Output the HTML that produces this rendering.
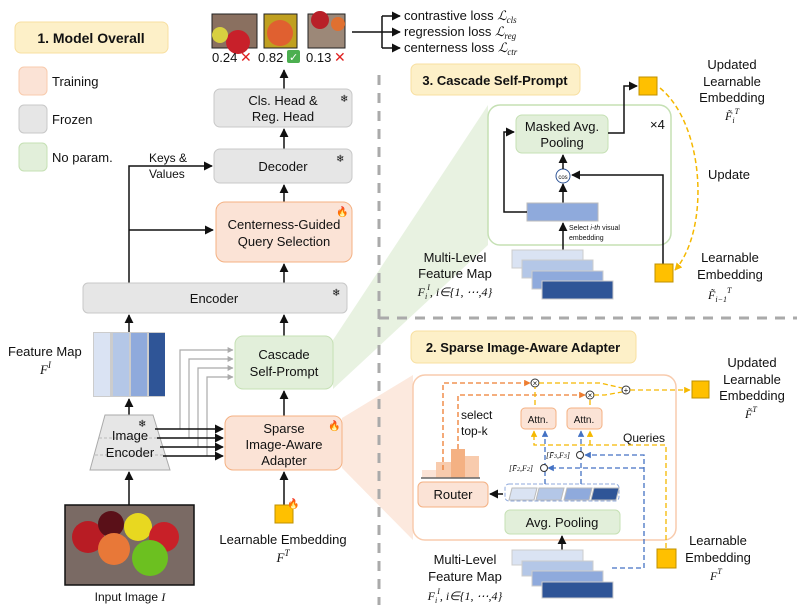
<!DOCTYPE html>
<html><head><meta charset="utf-8"><style>
html,body{margin:0;padding:0;background:#fff}
svg{display:block}
text{font-family:"Liberation Sans",sans-serif;fill:#111}
.s{font-size:12px}.m{font-size:13px}.i{font-family:"Liberation Serif",serif;font-style:italic}
</style></head><body>
<svg width="797" height="613" viewBox="0 0 797 613" xmlns="http://www.w3.org/2000/svg">
<defs>
<marker id="a" viewBox="0 0 10 10" refX="9" refY="5" markerWidth="6" markerHeight="6" orient="auto"><path d="M0,0L10,5L0,10z" fill="#111"/></marker>
<marker id="ag" viewBox="0 0 10 10" refX="9" refY="5" markerWidth="5" markerHeight="5" orient="auto"><path d="M0,0L10,5L0,10z" fill="#aaa"/></marker>
<marker id="ay" viewBox="0 0 10 10" refX="9" refY="5" markerWidth="5" markerHeight="5" orient="auto"><path d="M0,0L10,5L0,10z" fill="#f5b800"/></marker>
<marker id="ab" viewBox="0 0 10 10" refX="9" refY="5" markerWidth="5" markerHeight="5" orient="auto"><path d="M0,0L10,5L0,10z" fill="#4472c4"/></marker>
<marker id="ao" viewBox="0 0 10 10" refX="9" refY="5" markerWidth="5" markerHeight="5" orient="auto"><path d="M0,0L10,5L0,10z" fill="#ed7d31"/></marker>
</defs>
<!-- wedges -->
<polygon points="333,340 333,389 488,245 488,105" fill="#e2efda" opacity="0.8"/>
<polygon points="342,418 342,468 413,540 413,375" fill="#fbe3d6" opacity="0.8"/>
<rect x="379" y="0" width="418" height="613" fill="none"/>
<!-- dashed dividers -->
<line x1="379" y1="75" x2="379" y2="605" stroke="#aaa" stroke-width="3" stroke-dasharray="10,8"/>
<line x1="379" y1="318" x2="797" y2="318" stroke="#aaa" stroke-width="3" stroke-dasharray="10,8"/>
<!-- title box 1 -->
<rect x="15" y="22" width="153" height="31" rx="6" fill="#fdf0c8" stroke="#f8dfa0"/>
<text x="91" y="43" text-anchor="middle" font-size="14" font-weight="bold">1. Model Overall</text>
<rect x="19" y="67" width="28" height="28" rx="5" fill="#fbe3d6" stroke="#f8cbad"/>
<text x="52" y="86" class="m">Training</text>
<rect x="19" y="105" width="28" height="28" rx="5" fill="#e6e6e6" stroke="#c8c8c8"/>
<text x="52" y="124" class="m">Frozen</text>
<rect x="19" y="143" width="28" height="28" rx="5" fill="#e2efda" stroke="#c5e0b4"/>
<text x="52" y="162" class="m">No param.</text>
<!-- top images -->
<rect x="212" y="14" width="45" height="34" fill="#8a7060" stroke="#222"/>
<circle cx="238" cy="42" r="12" fill="#c8202a"/><circle cx="220" cy="35" r="8" fill="#d8d040"/>
<rect x="264" y="14" width="33" height="34" fill="#c0a020" stroke="#222"/>
<circle cx="280" cy="33" r="13" fill="#e06030"/>
<rect x="308" y="14" width="37" height="34" fill="#9c8878" stroke="#222"/>
<circle cx="320" cy="20" r="9" fill="#b82028"/><circle cx="338" cy="24" r="7" fill="#e07030"/>
<text x="212" y="62" class="m">0.24</text><text x="240" y="62" font-size="14" fill="#e02020" style="fill:#e02020">✕</text>
<text x="258" y="62" class="m">0.82</text><rect x="287" y="50" width="13" height="13" rx="2" fill="#4caf50"/><text x="289" y="61" font-size="11" style="fill:#fff">✓</text>
<text x="306" y="62" class="m">0.13</text><text x="334" y="62" font-size="14" style="fill:#e02020">✕</text>
<line x1="352" y1="32" x2="382" y2="32" stroke="#111" stroke-width="1.5"/>
<path d="M382,16V48" stroke="#111" stroke-width="1.5"/>
<line x1="382" y1="16" x2="400" y2="16" stroke="#111" stroke-width="1.5" marker-end="url(#a)"/>
<line x1="382" y1="32" x2="400" y2="32" stroke="#111" stroke-width="1.5" marker-end="url(#a)"/>
<line x1="382" y1="48" x2="400" y2="48" stroke="#111" stroke-width="1.5" marker-end="url(#a)"/>
<text x="404" y="20" class="m">contrastive loss <tspan class="i">ℒ</tspan><tspan class="i" font-size="9" dy="3">cls</tspan></text>
<text x="404" y="36" class="m">regression loss <tspan class="i">ℒ</tspan><tspan class="i" font-size="9" dy="3">reg</tspan></text>
<text x="404" y="52" class="m">centerness loss <tspan class="i">ℒ</tspan><tspan class="i" font-size="9" dy="3">ctr</tspan></text>
<!-- main column -->
<line x1="284" y1="89" x2="284" y2="70" stroke="#111" stroke-width="1.5" marker-end="url(#a)"/>
<rect x="214" y="89" width="138" height="38" rx="6" fill="#e6e6e6" stroke="#c8c8c8"/>
<text x="283" y="105" text-anchor="middle" class="m">Cls. Head &amp;</text>
<text x="283" y="121" text-anchor="middle" class="m">Reg. Head</text>
<text x="340" y="102" font-size="10">❄</text>
<line x1="284" y1="149" x2="284" y2="129" stroke="#111" stroke-width="1.5" marker-end="url(#a)"/>
<rect x="214" y="149" width="138" height="34" rx="6" fill="#e6e6e6" stroke="#c8c8c8"/>
<text x="283" y="171" text-anchor="middle" class="m">Decoder</text>
<text x="336" y="162" font-size="10">❄</text>
<line x1="284" y1="202" x2="284" y2="185" stroke="#111" stroke-width="1.5" marker-end="url(#a)"/>
<rect x="216" y="202" width="136" height="60" rx="9" fill="#fbe3d6" stroke="#f4b183"/>
<text x="284" y="229" text-anchor="middle" class="m">Centerness-Guided</text>
<text x="284" y="246" text-anchor="middle" class="m">Query Selection</text>
<text x="336" y="215" font-size="10">🔥</text>
<line x1="284" y1="283" x2="284" y2="264" stroke="#111" stroke-width="1.5" marker-end="url(#a)"/>
<path d="M129,283V166H212" fill="none" stroke="#111" stroke-width="1.5" marker-end="url(#a)"/>
<line x1="129" y1="230" x2="213" y2="230" stroke="#111" stroke-width="1.5" marker-end="url(#a)"/>
<text x="149" y="162" class="s">Keys &amp;</text><text x="149" y="178" class="s">Values</text>
<rect x="83" y="283" width="264" height="30" rx="5" fill="#e6e6e6" stroke="#c8c8c8"/>
<text x="214" y="303" text-anchor="middle" class="m">Encoder</text>
<text x="332" y="296" font-size="10">❄</text>
<line x1="129" y1="332" x2="129" y2="315" stroke="#111" stroke-width="1.5" marker-end="url(#a)"/>
<line x1="284" y1="336" x2="284" y2="315" stroke="#111" stroke-width="1.5" marker-end="url(#a)"/>
<rect x="93" y="332" width="72" height="65" fill="#ccc"/>
<rect x="94" y="333" width="16" height="63" fill="#dae3f3"/><rect x="113" y="333" width="16" height="63" fill="#b4c7e7"/>
<rect x="131" y="333" width="16" height="63" fill="#8faadc"/><rect x="149" y="333" width="16" height="63" fill="#2f5597"/>
<text x="8" y="356" class="m">Feature Map</text>
<text x="40" y="374" class="m i">F<tspan font-size="9" dy="-6">I</tspan></text>
<line x1="129" y1="415" x2="129" y2="399" stroke="#111" stroke-width="1.5" marker-end="url(#a)"/>
<!-- gray lines -->
<g stroke="#aaa" stroke-width="1.2" fill="none">
<path d="M180,429V350H233" marker-end="url(#ag)"/><path d="M189,438V359H233" marker-end="url(#ag)"/>
<path d="M198,447V368H233" marker-end="url(#ag)"/><path d="M207,456V377H233" marker-end="url(#ag)"/>
</g>
<rect x="235" y="336" width="98" height="53" rx="8" fill="#e2efda" stroke="#c5e0b4"/>
<text x="284" y="359" text-anchor="middle" class="m">Cascade</text>
<text x="284" y="376" text-anchor="middle" class="m">Self-Prompt</text>
<line x1="284" y1="416" x2="284" y2="391" stroke="#111" stroke-width="1.5" marker-end="url(#a)"/>
<polygon points="105,415 153,415 170,470 90,470" fill="#e6e6e6" stroke="#aaa"/>
<line x1="99" y1="438" x2="160" y2="438" stroke="#bbb" stroke-dasharray="3,2"/>
<line x1="95" y1="455" x2="165" y2="455" stroke="#bbb" stroke-dasharray="3,2"/>
<text x="130" y="440" text-anchor="middle" class="m">Image</text>
<text x="130" y="457" text-anchor="middle" class="m">Encoder</text>
<text x="138" y="427" font-size="10">❄</text>
<g stroke="#111" stroke-width="1.5">
<line x1="155" y1="429" x2="223" y2="429" marker-end="url(#a)"/><line x1="157" y1="438" x2="223" y2="438" marker-end="url(#a)"/>
<line x1="160" y1="447" x2="223" y2="447" marker-end="url(#a)"/><line x1="163" y1="456" x2="223" y2="456" marker-end="url(#a)"/>
</g>
<rect x="225" y="416" width="117" height="54" rx="8" fill="#fbe3d6" stroke="#f4b183"/>
<text x="284" y="433" text-anchor="middle" class="m">Sparse</text>
<text x="284" y="449" text-anchor="middle" class="m">Image-Aware</text>
<text x="284" y="465" text-anchor="middle" class="m">Adapter</text>
<text x="328" y="429" font-size="10">🔥</text>
<line x1="284" y1="505" x2="284" y2="472" stroke="#111" stroke-width="1.5" marker-end="url(#a)"/>
<rect x="275" y="505" width="18" height="18" fill="#ffc000" stroke="#bf9000"/>
<text x="287" y="507" font-size="10">🔥</text>
<text x="283" y="544" text-anchor="middle" class="m">Learnable Embedding</text>
<text x="283" y="562" text-anchor="middle" class="m i">F<tspan font-size="9" dy="-6">T</tspan></text>
<line x1="129" y1="505" x2="129" y2="472" stroke="#111" stroke-width="1.5" marker-end="url(#a)"/>
<rect x="65" y="505" width="129" height="80" fill="#7a6a64" stroke="#111" stroke-width="1.5"/>
<circle cx="88" cy="537" r="16" fill="#b81c24"/><circle cx="111" cy="524" r="13" fill="#5a1018"/>
<circle cx="138" cy="527" r="14" fill="#e8d820"/><circle cx="164" cy="537" r="15" fill="#c82028"/>
<circle cx="114" cy="549" r="16" fill="#e87838"/><circle cx="150" cy="558" r="18" fill="#6cc020"/>
<text x="130" y="601" text-anchor="middle" class="s">Input Image <tspan class="i">I</tspan></text>
<!-- section 3 -->
<rect x="411" y="64" width="169" height="31" rx="6" fill="#fdf0c8" stroke="#f8dfa0"/>
<text x="495" y="85" text-anchor="middle" font-size="13" font-weight="bold">3. Cascade Self-Prompt</text>
<rect x="488" y="105" width="183" height="140" rx="12" fill="#fff" stroke="#c5e0b4" stroke-width="1.5"/>
<rect x="516" y="115" width="92" height="38" rx="6" fill="#e2efda" stroke="#c5e0b4"/>
<text x="562" y="131" text-anchor="middle" class="m">Masked Avg.</text>
<text x="562" y="147" text-anchor="middle" class="m">Pooling</text>
<text x="650" y="129" class="m">×4</text>
<circle cx="563" cy="176" r="7" fill="#fff" stroke="#2f5597"/>
<text x="563" y="179" text-anchor="middle" font-size="6">cos</text>
<line x1="563" y1="169" x2="563" y2="155" stroke="#111" stroke-width="1.5" marker-end="url(#a)"/>
<line x1="563" y1="203" x2="563" y2="184" stroke="#111" stroke-width="1.5" marker-end="url(#a)"/>
<rect x="527" y="203" width="71" height="18" fill="#8faadc" stroke="#bbb"/>
<path d="M527,212H504V132H514" fill="none" stroke="#111" stroke-width="1.5" marker-end="url(#a)"/>
<line x1="563" y1="250" x2="563" y2="223" stroke="#111" stroke-width="1.5" marker-end="url(#a)"/>
<text x="569" y="230" font-size="7">Select <tspan font-style="italic">i-th</tspan> visual</text>
<text x="569" y="240" font-size="7">embedding</text>
<path d="M663,264V175H572" fill="none" stroke="#111" stroke-width="1.5" marker-end="url(#a)"/>
<path d="M608,133H624V86H637" fill="none" stroke="#111" stroke-width="1.5" marker-end="url(#a)"/>
<rect x="512" y="250" width="71" height="18" fill="#dae3f3" stroke="#ccc"/>
<rect x="522" y="260" width="71" height="18" fill="#b4c7e7" stroke="#ccc"/>
<rect x="532" y="271" width="71" height="18" fill="#8faadc" stroke="#ccc"/>
<rect x="542" y="281" width="71" height="18" fill="#2f5597" stroke="#ccc"/>
<text x="455" y="262" text-anchor="middle" class="m">Multi-Level</text>
<text x="455" y="278" text-anchor="middle" class="m">Feature Map</text>
<text x="455" y="296" text-anchor="middle" class="s i">F<tspan font-size="8" dy="3">i</tspan><tspan font-size="8" dy="-9">I</tspan><tspan dy="6">, i∈{1, ⋯,4}</tspan></text>
<rect x="639" y="77" width="18" height="18" fill="#ffc000" stroke="#bf9000"/>
<rect x="655" y="264" width="18" height="18" fill="#ffc000" stroke="#bf9000"/>
<path d="M660,88C705,125,710,230,675,270" fill="none" stroke="#f5b800" stroke-width="1.5" stroke-dasharray="5,3" marker-end="url(#ay)"/>
<text x="732" y="69" text-anchor="middle" class="m">Updated</text>
<text x="732" y="86" text-anchor="middle" class="m">Learnable</text>
<text x="732" y="102" text-anchor="middle" class="m">Embedding</text>
<text x="725" y="120" class="s i">F̃<tspan font-size="8" dy="3">i</tspan><tspan font-size="8" dy="-9">T</tspan></text>
<text x="708" y="179" class="m">Update</text>
<text x="730" y="262" text-anchor="middle" class="m">Learnable</text>
<text x="730" y="279" text-anchor="middle" class="m">Embedding</text>
<text x="708" y="299" class="s i">F̃<tspan font-size="8" dy="3">i−1</tspan><tspan font-size="8" dy="-9">T</tspan></text>
<!-- section 2 -->
<rect x="411" y="331" width="225" height="32" rx="6" fill="#fdf0c8" stroke="#f8dfa0"/>
<text x="523" y="352" text-anchor="middle" font-size="13" font-weight="bold">2. Sparse Image-Aware Adapter</text>
<rect x="413" y="375" width="263" height="165" rx="12" fill="#fff" stroke="#f8cbad" stroke-width="1.5"/>
<!-- histogram -->
<rect x="422" y="470" width="14" height="8" fill="#fbe3d6"/><rect x="436" y="462" width="15" height="16" fill="#f8cbad"/>
<rect x="451" y="449" width="14" height="29" fill="#f4b183"/><rect x="465" y="456" width="14" height="22" fill="#f8cbad"/>
<line x1="421" y1="478" x2="480" y2="478" stroke="#666" stroke-width="1.5"/>
<text x="461" y="419" class="s">select</text><text x="461" y="435" class="s">top-k</text>
<rect x="418" y="482" width="70" height="25" rx="5" fill="#fbe3d6" stroke="#f4b183"/>
<text x="453" y="499" text-anchor="middle" class="m">Router</text>
<line x1="503" y1="494" x2="490" y2="494" stroke="#111" stroke-width="1.5" marker-end="url(#a)"/>
<rect x="505" y="484" width="114" height="17" rx="4" fill="none" stroke="#8faadc" stroke-dasharray="4,2"/>
<polygon points="512,488 537,488 534,500 509,500" fill="#dae3f3" stroke="#bbb"/>
<polygon points="539,488 564,488 561,500 536,500" fill="#b4c7e7" stroke="#bbb"/>
<polygon points="567,488 592,488 589,500 564,500" fill="#8faadc" stroke="#bbb"/>
<polygon points="594,488 619,488 616,500 591,500" fill="#2f5597" stroke="#bbb"/>
<rect x="505" y="510" width="115" height="24" rx="5" fill="#e2efda" stroke="#c5e0b4"/>
<text x="562" y="527" text-anchor="middle" class="m">Avg. Pooling</text>
<line x1="562" y1="550" x2="562" y2="536" stroke="#111" stroke-width="1.5" marker-end="url(#a)"/>
<!-- orange dashed -->
<g stroke="#ed7d31" stroke-width="1.3" fill="none" stroke-dasharray="5,3">
<path d="M443,470V383H530" marker-end="url(#ao)"/>
<path d="M458,449V395H585" marker-end="url(#ao)"/>
</g>
<rect x="521" y="408" width="35" height="21" rx="4" fill="#fbe3d6" stroke="#f4b183"/>
<text x="538" y="423" text-anchor="middle" font-size="10">Attn.</text>
<rect x="567" y="408" width="35" height="21" rx="4" fill="#fbe3d6" stroke="#f4b183"/>
<text x="584" y="423" text-anchor="middle" font-size="10">Attn.</text>
<circle cx="535" cy="383" r="4" fill="#fff" stroke="#333"/><text x="535" y="386" text-anchor="middle" font-size="8">×</text>
<circle cx="590" cy="395" r="4" fill="#fff" stroke="#333"/><text x="590" y="398" text-anchor="middle" font-size="8">×</text>
<circle cx="626" cy="390" r="4" fill="#fff" stroke="#333"/><text x="626" y="393" text-anchor="middle" font-size="8">+</text>
<g stroke="#f5b800" stroke-width="1.3" fill="none" stroke-dasharray="5,3">
<path d="M539,383H600L622,388"/><path d="M594,395H605L622,392"/>
<path d="M630,390H690" marker-end="url(#ay)"/>
<path d="M535,405V387"/><path d="M590,405V399"/>
<path d="M666,548V445H534V431" marker-end="url(#ay)"/>
<path d="M590,445V431" marker-end="url(#ay)"/>
</g>
<g stroke="#4472c4" stroke-width="1.3" fill="none" stroke-dasharray="5,3">
<path d="M545,484V431" marker-end="url(#ab)"/><path d="M581,484V431" marker-end="url(#ab)"/>
<path d="M612,568H644V455H585" marker-end="url(#ab)"/>
<path d="M644,468H548" marker-end="url(#ab)"/>
</g>
<circle cx="544" cy="468" r="3.5" fill="#fff" stroke="#333"/><circle cx="580" cy="455" r="3.5" fill="#fff" stroke="#333"/>
<text x="509" y="471" font-size="8" class="i">[F̄<tspan font-size="6">2</tspan>,F<tspan font-size="6">2</tspan>]</text>
<text x="546" y="458" font-size="8" class="i">[F̄<tspan font-size="6">3</tspan>,F<tspan font-size="6">3</tspan>]</text>
<text x="623" y="442" class="s">Queries</text>
<rect x="692" y="381" width="17" height="17" fill="#ffc000" stroke="#bf9000"/>
<rect x="657" y="549" width="19" height="19" fill="#ffc000" stroke="#bf9000"/>
<text x="752" y="367" text-anchor="middle" class="m">Updated</text>
<text x="752" y="384" text-anchor="middle" class="m">Learnable</text>
<text x="752" y="400" text-anchor="middle" class="m">Embedding</text>
<text x="745" y="418" class="s i">F̃<tspan font-size="8" dy="-6">T</tspan></text>
<text x="718" y="545" text-anchor="middle" class="m">Learnable</text>
<text x="718" y="562" text-anchor="middle" class="m">Embedding</text>
<text x="710" y="580" class="s i">F<tspan font-size="8" dy="-6">T</tspan></text>
<rect x="512" y="550" width="71" height="15" fill="#dae3f3" stroke="#ccc"/>
<rect x="522" y="561" width="71" height="15" fill="#b4c7e7" stroke="#ccc"/>
<rect x="532" y="571" width="71" height="15" fill="#8faadc" stroke="#ccc"/>
<rect x="542" y="582" width="71" height="16" fill="#2f5597" stroke="#ccc"/>
<text x="465" y="564" text-anchor="middle" class="m">Multi-Level</text>
<text x="465" y="581" text-anchor="middle" class="m">Feature Map</text>
<text x="465" y="600" text-anchor="middle" class="s i">F<tspan font-size="8" dy="3">i</tspan><tspan font-size="8" dy="-9">I</tspan><tspan dy="6">, i∈{1, ⋯,4}</tspan></text>
</svg>
</body></html>
